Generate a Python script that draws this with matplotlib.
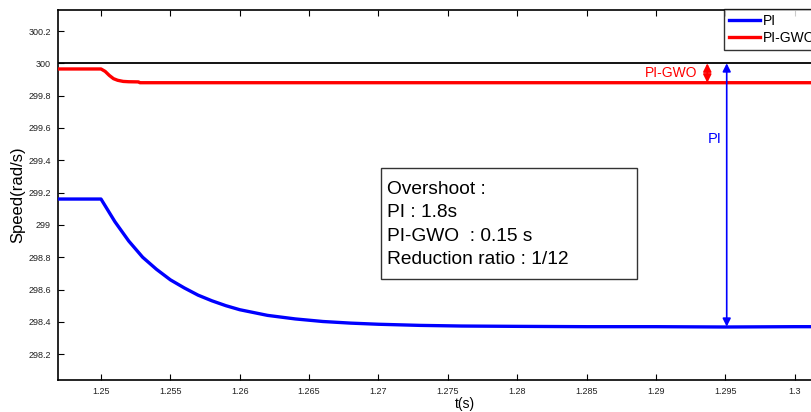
import matplotlib
matplotlib.use("Agg")
import matplotlib.pyplot as plt
from matplotlib.patches import Rectangle

plt.rcParams['font.family'] = ['Liberation Sans', 'DejaVu Sans']

# Reference speed
ref_speed = 300.0

# PI controller response
t_pi = [1.2469, 1.25, 1.251, 1.252, 1.253, 1.254, 1.255, 1.256, 1.257, 1.258,
        1.259, 1.26, 1.262, 1.264, 1.266, 1.268, 1.27, 1.273, 1.276, 1.28,
        1.285, 1.29, 1.295, 1.3, 1.306]
speed_pi = [299.16, 299.16, 299.02, 298.90, 298.80, 298.725, 298.66, 298.61, 298.565, 298.53,
            298.50, 298.475, 298.44, 298.418, 298.402, 298.392, 298.385, 298.378, 298.374, 298.372,
            298.37, 298.37, 298.368, 298.37, 298.37]

# PI-GWO controller response
t_gwo = [1.2469, 1.25, 1.2503, 1.2506, 1.2509, 1.2512, 1.2516, 1.252, 1.2527, 1.2528, 1.306]
speed_gwo = [299.965, 299.965, 299.95, 299.925, 299.905, 299.895, 299.888, 299.886, 299.885, 299.88, 299.88]

x_ticks = [1.25, 1.255, 1.26, 1.265, 1.27, 1.275, 1.28, 1.285, 1.29, 1.295, 1.3]
x_labels = ['1.25', '1.255', '1.26', '1.265', '1.27', '1.275', '1.28', '1.285', '1.29', '1.295', '1.3']
y_ticks = [298.2, 298.4, 298.6, 298.8, 299.0, 299.2, 299.4, 299.6, 299.8, 300.0, 300.2]
y_labels = ['298.2', '298.4', '298.6', '298.8', '299', '299.2', '299.4', '299.6', '299.8', '300', '300.2']

info_lines = ['Overshoot :', 'PI : 1.8s', 'PI-GWO  : 0.15 s', 'Reduction ratio : 1/12']

W, H = 811, 412
fig = plt.figure(figsize=(W / 100, H / 100), dpi=100)
# axes extends past the right edge of the canvas
ax = fig.add_axes([58 / W, 32 / H, 813 / W, 370 / H])

ax.axhline(ref_speed, color='black', lw=1.3, zorder=2)
l1, = ax.plot(t_pi, speed_pi, color='#0000ff', lw=2.4, label='PI', zorder=3)
l2, = ax.plot(t_gwo, speed_gwo, color='#ff0000', lw=2.4, label='PI-GWO', zorder=3)

ax.set_xlim(1.2469, 1.3055)
ax.set_ylim(298.04, 300.33)
ax.set_xticks(x_ticks)
ax.set_xticklabels(x_labels)
ax.set_yticks(y_ticks)
ax.set_yticklabels(y_labels)
ax.tick_params(direction='in', length=4, width=0.8, labelsize=6.5, top=True, right=True,
               pad=5, colors='black', labelcolor='#222222')
for s in ax.spines.values():
    s.set_linewidth(1.2)

ax.set_xlabel('t(s)', fontsize=10, labelpad=1)
ax.set_ylabel('Speed(rad/s)', fontsize=12)
ax.yaxis.set_label_coords(-33 / 813, 0.5)

# Overshoot arrows
ax.annotate('', xy=(1.2937, ref_speed), xytext=(1.2937, speed_gwo[-1]),
            arrowprops=dict(arrowstyle='<|-|>', color='#ff0000', lw=1.3,
                            mutation_scale=12, shrinkA=0, shrinkB=0))
ax.text(1.2930, 299.94, 'PI-GWO', color='#ff0000', fontsize=10, ha='right', va='center')

ax.annotate('', xy=(1.2951, ref_speed), xytext=(1.2951, speed_pi[-2]),
            arrowprops=dict(arrowstyle='<|-|>', color='#0000ff', lw=1.2,
                            mutation_scale=12, shrinkA=0, shrinkB=0))
ax.text(1.2947, 299.53, 'PI', color='#0000ff', fontsize=10.5, ha='right', va='center')

# Summary box (drawn in axes pixel offsets from the top-left corner)
def px_to_axes(px, py):
    return (px - 58) / 813, (380 - py) / 370

bx0, by0 = px_to_axes(381, 279)
bx1, by1 = px_to_axes(637, 168)
ax.add_patch(Rectangle((bx0, by0), bx1 - bx0, by1 - by0, transform=ax.transAxes,
                       facecolor='white', edgecolor='#333333', lw=1.0, zorder=4))
for i, line in enumerate(info_lines):
    tx, ty = px_to_axes(387, 194 + 23.4 * i)
    ax.text(tx, ty, line, transform=ax.transAxes, fontsize=13.8, ha='left',
            va='baseline', zorder=5)

leg = fig.legend(handles=[l1, l2], loc='upper left', bbox_to_anchor=(724 / W, 1 - 9 / H),
                 fontsize=10, frameon=True, fancybox=False, edgecolor='black',
                 handlelength=2.25, handletextpad=0.22, borderpad=0.35, labelspacing=0.2,
                 borderaxespad=0)
leg.get_frame().set_linewidth(1.0)

fig.savefig('out.png', dpi=100)
